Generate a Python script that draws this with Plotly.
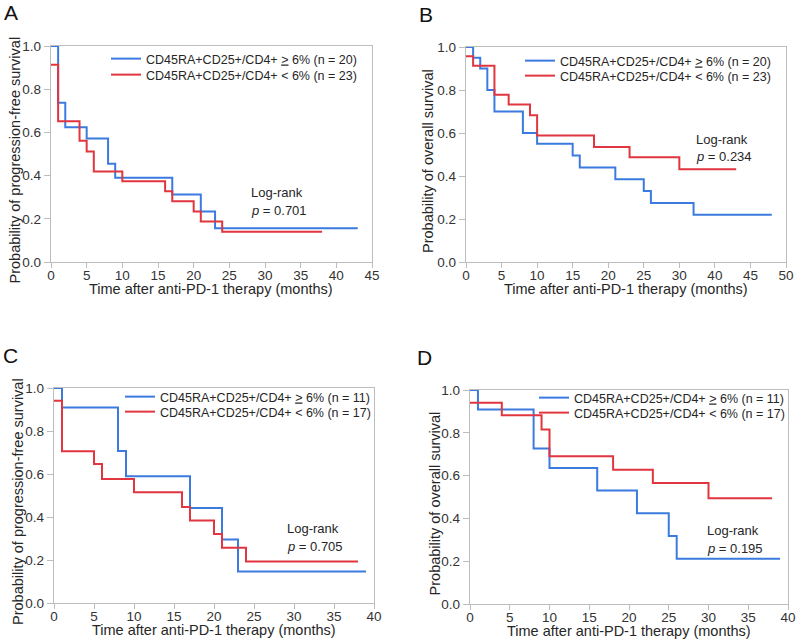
import plotly.graph_objects as go

BLUE = "#3b7be0"
RED = "#e1363f"
FRAME = "#bdbdbd"
TEXT = "#262626"
FONT = "Arial, Liberation Sans, sans-serif"

# ── group labels ─────────────────────────────────────────────
hi_label = "CD45RA+CD25+/CD4+ <u>&gt;</u> 6% (n = {})"
lo_label = "CD45RA+CD25+/CD4+ &lt; 6% (n = {})"
n_cohort1 = [20, 23]
n_cohort2 = [11, 17]

# ── A: progression-free survival, cohort 1 ───────────────────
a_hi_t = [0, 1, 2, 5, 8, 9, 17, 21, 23, 43]
a_hi_s = [1.0, 0.737, 0.624, 0.572, 0.455, 0.39, 0.312, 0.234, 0.156, 0.156]
a_lo_t = [0, 1, 4, 5, 6, 10, 16, 17, 20, 21, 24, 38]
a_lo_s = [0.913, 0.652, 0.561, 0.511, 0.419, 0.374, 0.327, 0.281, 0.234, 0.187, 0.14, 0.14]

# ── B: overall survival, cohort 1 ────────────────────────────
b_hi_t = [0, 1, 2, 3, 4, 8, 10, 15, 16, 21, 25, 26, 32, 43]
b_hi_s = [1.0, 0.95, 0.90, 0.80, 0.70, 0.60, 0.55, 0.495, 0.44, 0.385, 0.33, 0.275, 0.22, 0.22]
b_lo_t = [0, 1, 4, 6, 9, 10, 18, 23, 30, 38]
b_lo_s = [0.957, 0.913, 0.778, 0.733, 0.682, 0.588, 0.535, 0.487, 0.431, 0.431]

# ── C: progression-free survival, cohort 2 ───────────────────
c_hi_t = [0, 1, 8, 9, 17, 21, 23, 39]
c_hi_s = [1.0, 0.909, 0.707, 0.589, 0.442, 0.295, 0.147, 0.147]
c_lo_t = [0, 1, 5, 6, 10, 16, 17, 20, 21, 24, 38]
c_lo_s = [0.941, 0.706, 0.647, 0.577, 0.515, 0.447, 0.384, 0.321, 0.257, 0.193, 0.193]

# ── D: overall survival, cohort 2 ────────────────────────────
d_hi_t = [0, 1, 8, 10, 16, 21, 25, 26, 39]
d_hi_s = [1.0, 0.909, 0.727, 0.636, 0.53, 0.424, 0.318, 0.212, 0.212]
d_lo_t = [0, 4, 9, 10, 18, 23, 30, 38]
d_lo_s = [0.941, 0.882, 0.816, 0.69, 0.627, 0.565, 0.494, 0.494]

# ── axes ticks / p-values ────────────────────────────────────
x_ticks_45 = list(range(0, 46, 5))
x_ticks_40 = list(range(0, 41, 5))
b_tick_text = ["0", "5", "10", "15", "20", "25", "30", "40", "45", "50"]
y_ticks = [0.0, 0.2, 0.4, 0.6, 0.8, 1.0]
p_values = ["0.701", "0.234", "0.705", "0.195"]
pfs_title = "Probability of progression-free survival"
os_title = "Probability of overall survival"
x_title = "Time after anti-PD-1 therapy (months)"

W, H = 798, 642


def px_x(v):
    return v / W


def px_y(v):
    return 1 - v / H


panels = [
    dict(letter="A", hi=(a_hi_t, a_hi_s), lo=(a_lo_t, a_lo_s), n=n_cohort1,
         xr=45, ticks=x_ticks_45, ticktext=None, ytitle=pfs_title,
         box=(51, 372, 46, 262), letter_xy=(10.5, 12.5),
         leg=(113, 59, 75), yshift=-36, p_xy=(27.8, 0.322, 0.237)),
    dict(letter="B", hi=(b_hi_t, b_hi_s), lo=(b_lo_t, b_lo_s), n=n_cohort1,
         xr=45, ticks=x_ticks_45, ticktext=b_tick_text, ytitle=os_title,
         box=(466, 786, 47, 262), letter_xy=(426, 14),
         leg=(527, 61, 76), yshift=-38, p_xy=(32.1, 0.569, 0.491)),
    dict(letter="C", hi=(c_hi_t, c_hi_s), lo=(c_lo_t, c_lo_s), n=n_cohort2,
         xr=40, ticks=x_ticks_40, ticktext=None, ytitle=pfs_title,
         box=(54, 374, 388, 603), letter_xy=(10.5, 355.5),
         leg=(127, 397, 412), yshift=-36, p_xy=(28.9, 0.346, 0.264)),
    dict(letter="D", hi=(d_hi_t, d_hi_s), lo=(d_lo_t, d_lo_s), n=n_cohort2,
         xr=40, ticks=x_ticks_40, ticktext=None, ytitle=os_title,
         box=(470, 788, 390, 604), letter_xy=(424.5, 357.5),
         leg=(541, 398, 413), yshift=-35, p_xy=(29.5, 0.344, 0.261)),
]

fig = go.Figure()
layout = dict(
    width=W,
    height=H,
    margin=dict(l=0, r=0, t=0, b=0),
    paper_bgcolor="white",
    plot_bgcolor="white",
    font=dict(family=FONT, color=TEXT, size=13),
    showlegend=True,
    annotations=[],
)

leg_no = 0
for i, p in enumerate(panels):
    k = "" if i == 0 else str(i + 1)
    xa, ya = "x" + k, "y" + k
    l, r, t, b = p["box"]
    lx0, ly_hi, ly_lo = p["leg"]

    # one single-item legend per curve, so rows sit exactly where the reference has them
    for (tt, ss), color, n, lab, ly in [
        (p["hi"], BLUE, p["n"][0], hi_label, ly_hi),
        (p["lo"], RED, p["n"][1], lo_label, ly_lo),
    ]:
        leg_no += 1
        lg = "legend" if leg_no == 1 else "legend" + str(leg_no)
        fig.add_trace(
            go.Scatter(
                x=tt, y=ss, mode="lines", line=dict(color=color, width=2, shape="hv"),
                name=lab.format(n), xaxis=xa, yaxis=ya, legend=lg,
            )
        )
        layout[lg] = dict(
            x=px_x(lx0 - 7), y=px_y(ly), xanchor="left", yanchor="middle",
            bgcolor="rgba(0,0,0,0)", borderwidth=0, font=dict(size=12.5, color=TEXT),
            itemwidth=30,
        )

    axis_common = dict(
        showline=True, mirror=True, linecolor=FRAME, linewidth=1.3,
        ticks="outside", tickcolor=FRAME, tickwidth=1.2,
        showgrid=False, zeroline=False, automargin=False,
        tickfont=dict(size=13.5, color="#333333"),
    )
    xaxis = dict(axis_common, domain=[px_x(l), px_x(r)], range=[0, p["xr"]],
                 tickvals=p["ticks"], anchor=ya, ticklen=5, ticklabelstandoff=-4)
    if p["ticktext"]:
        xaxis["ticktext"] = p["ticktext"]
    yaxis = dict(axis_common, domain=[px_y(b), px_y(t)], range=[0, 1],
                 tickvals=y_ticks, tickformat=".1f", anchor=xa, ticklen=6)
    layout["xaxis" + k] = xaxis
    layout["yaxis" + k] = yaxis

    # axis titles
    layout["annotations"].append(dict(
        text=x_title, xref=xa + " domain", yref=ya + " domain", x=0.5, y=0,
        yshift=-27, xanchor="center", yanchor="middle", showarrow=False,
        font=dict(size=14.5, color=TEXT),
    ))
    layout["annotations"].append(dict(
        text=p["ytitle"], xref=xa + " domain", yref=ya + " domain", x=0, y=0.47,
        xshift=p["yshift"], xanchor="center", yanchor="middle", textangle=-90,
        showarrow=False, font=dict(size=14.5, color=TEXT),
    ))

    lx, ly = p["letter_xy"]
    layout["annotations"].append(dict(
        text=p["letter"], xref="paper", yref="paper", x=px_x(lx), y=px_y(ly),
        xanchor="center", yanchor="middle", showarrow=False,
        font=dict(size=21, color="#111111"),
    ))
    px0, py1, py2 = p["p_xy"]
    layout["annotations"].append(dict(
        text="Log-rank", xref=xa, yref=ya, x=px0, y=py1, xanchor="left",
        yanchor="middle", showarrow=False, font=dict(size=13, color=TEXT),
    ))
    layout["annotations"].append(dict(
        text="<i>p</i> = " + p_values[i], xref=xa, yref=ya, x=px0, y=py2,
        xanchor="left", yanchor="middle", showarrow=False,
        font=dict(size=13, color=TEXT),
    ))

fig.update_layout(**layout)
# drop the browser's default 8px body margin so the figure fills the window exactly
fig.write_html(
    "out.html",
    config={"displayModeBar": False},
    post_script="document.body.style.margin = '0';",
)
